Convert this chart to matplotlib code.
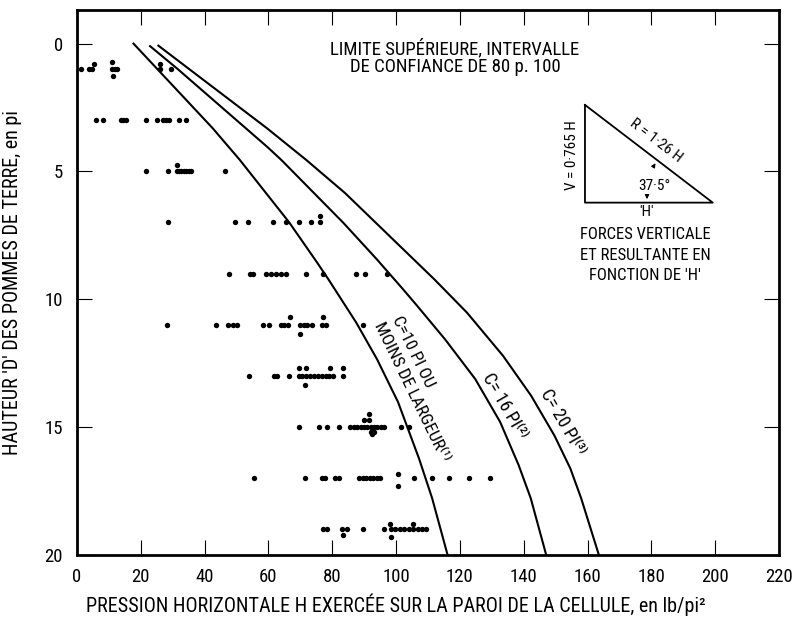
import matplotlib
matplotlib.use('Agg')
import matplotlib.pyplot as plt

plt.rcParams['font.family'] = ['Liberation Sans Narrow', 'Roboto Condensed',
                               'Liberation Sans', 'DejaVu Sans']
plt.rcParams['axes.unicode_minus'] = False

# curves: H (lb/pi2) against D (pi)
c10_h = [17.7, 25.2, 42.5, 51.0, 66.5, 75.3, 78.8, 87.5, 94.0, 100.6, 107.2, 111.3, 116.1]
c10_d = [0.0, 1.0, 3.31, 4.55, 7.0, 8.58, 9.23, 10.92, 12.35, 14.03, 16.25, 17.8, 20.0]
c16_h = [22.9, 31.5, 59.5, 64.0, 83.5, 94.0, 102.2, 106.5, 115.3, 124.8, 132.6, 138.4, 142.2, 147.0]
c16_d = [0.1, 0.99, 4.03, 4.55, 7.02, 8.45, 9.62, 10.25, 11.57, 13.13, 14.81, 16.5, 17.8, 20.0]
c20_h = [25.5, 59.5, 71.8, 84.0, 112.0, 122.2, 133.5, 142.3, 149.6, 154.6, 158.0, 163.5]
c20_d = [0.08, 3.31, 4.55, 5.85, 9.23, 10.53, 12.22, 13.78, 15.34, 16.63, 17.8, 20.0]

# measured points, one list per depth row
rows = {
    1: [1.3, 3.8, 4.6, 11.0, 11.9, 12.6, 26.0, 29.5],
    3: [6.1, 8.2, 13.8, 14.5, 15.4, 21.6, 25.1, 27.0, 27.9, 28.7, 32.0, 34.1],
    5: [21.5, 28.5, 31.2, 31.9, 32.7, 33.5, 34.3, 35.0, 35.8, 46.4],
    7: [28.4, 49.6, 53.7, 61.5, 65.6, 69.5, 73.4, 76.2],
    9: [47.6, 54.2, 55.3, 59.1, 60.7, 62.3, 63.8, 65.6, 71.7, 77.2, 87.4, 90.2, 97.3],
    11: [28.3, 43.6, 47.4, 48.9, 50.0, 58.4, 60.2, 63.8, 65.0, 66.2, 70.0, 71.0, 72.0,
         73.6, 76.9, 78.0, 89.5],
    13: [54.0, 61.7, 62.8, 66.5, 69.5, 70.6, 71.9, 73.1, 74.3, 75.5, 76.7, 77.9, 79.1,
         80.3, 83.5],
    15: [69.5, 75.8, 78.2, 82.0, 85.7, 86.8, 87.8, 88.9, 89.9, 90.9, 92.0, 93.0, 94.1,
         95.2, 96.2, 101.4, 104.0],
    17: [55.6, 71.3, 76.8, 77.6, 81.0, 82.0, 88.3, 89.5, 90.7, 91.8, 92.8, 93.9, 95.1,
         105.6, 111.4, 116.6, 122.9, 129.5],
    19: [77.0, 78.5, 83.0, 84.7, 89.6, 96.1, 98.4, 99.8, 101.2, 102.6, 104.0, 105.4,
         106.8, 108.2, 109.5],
}
# points lying a little above or below their row
extra_h = [5.2, 11.0, 11.2, 26.0, 31.4, 76.2, 66.7, 77.2, 70.0, 69.5, 71.9, 79.4, 83.5,
           71.4, 89.9, 91.5, 91.5, 92.0, 93.0, 92.5, 100.6, 100.6, 98.2, 105.4, 83.3, 98.5]
extra_d = [0.78, 0.72, 1.27, 0.8, 4.75, 6.75, 10.7, 10.7, 11.35, 12.7, 12.7, 12.7, 12.7,
           13.35, 14.75, 14.75, 14.5, 15.2, 15.2, 15.3, 16.85, 17.3, 18.8, 18.8, 19.25, 19.3]

xticks = list(range(0, 221, 20))
yticks = [0, 5, 10, 15, 20]

fig = plt.figure(figsize=(7.98, 6.19), dpi=100)
ax = fig.add_axes([0.0965, 0.1042, 0.8797, 0.879])

for d, hs in rows.items():
    ax.scatter(hs, [d] * len(hs), s=15, color='black', linewidths=0, zorder=3)
ax.scatter(extra_h, extra_d, s=15, color='black', linewidths=0, zorder=3)

for h, d in [(c10_h, c10_d), (c16_h, c16_d), (c20_h, c20_d)]:
    ax.plot(h, d, color='black', lw=1.5)

ax.set_xlim(0, 220)
ax.set_ylim(20, -1.3)
ax.set_xticks(xticks)
ax.set_yticks(yticks)
ax.tick_params(direction='in', length=11, width=0.8, top=True, right=True,
               labelsize=13.5, pad=10)
for s in ax.spines.values():
    s.set_linewidth(2.0)

ax.set_xlabel("PRESSION HORIZONTALE H EXERCÉE SUR LA PAROI DE LA CELLULE, en lb/pi²",
              fontsize=14.5)
ax.xaxis.set_label_coords(0.454, -0.071)
ax.set_ylabel("HAUTEUR 'D' DES POMMES DE TERRE, en pi", fontsize=14.5)
ax.yaxis.set_label_coords(-0.078, 0.5)

# curve labels
ax.text(105.3, 12.05, "C=10 PI OU", rotation=-64, rotation_mode='anchor',
        ha='center', va='center', fontsize=12.5)
ax.text(104.9, 13.62, "MOINS DE LARGEUR⁽¹⁾", rotation=-64, rotation_mode='anchor',
        ha='center', va='center', fontsize=12.5)
ax.text(133.9, 14.2, "C= 16 PI⁽²⁾", rotation=-60, rotation_mode='anchor',
        ha='center', va='center', fontsize=13)
ax.text(152.3, 14.8, "C= 20 PI⁽³⁾", rotation=-60, rotation_mode='anchor',
        ha='center', va='center', fontsize=13)

t = ax.transAxes
ax.text(0.5385, 0.9290, "LIMITE SUPÉRIEURE, INTERVALLE", transform=t,
        ha='center', va='center', fontsize=13.5)
ax.text(0.5385, 0.8955, "DE CONFIANCE DE 80 p. 100", transform=t,
        ha='center', va='center', fontsize=13.5)

# force triangle inset
ax.plot([0.7236, 0.7236, 0.9056, 0.7236], [0.8263, 0.6467, 0.6467, 0.8263],
        transform=t, color='black', lw=1.3)
ax.text(0.8244, 0.7600, "R = 1·26 H", transform=t, rotation=-37.5,
        rotation_mode='anchor', ha='center', va='center', fontsize=11)
ax.text(0.7051, 0.7331, "V = 0·765 H", transform=t, rotation=90,
        ha='center', va='center', fontsize=11)
ax.text(0.8219, 0.6774, "37·5°", transform=t, ha='center', va='center', fontsize=11)
ax.text(0.8120, 0.6287, "'H'", transform=t, ha='center', va='center', fontsize=11)
ax.annotate('', xy=(0.8262, 0.7234), xytext=(0.8191, 0.7090), xycoords=t,
            arrowprops=dict(arrowstyle='-|>', color='black', lw=0.8, mutation_scale=6))
ax.annotate('', xy=(0.8120, 0.6480), xytext=(0.8120, 0.6650), xycoords=t,
            arrowprops=dict(arrowstyle='-|>', color='black', lw=0.8, mutation_scale=6))
for y, s in [(0.5882, "FORCES VERTICALE"), (0.5496, "ET RESULTANTE EN"),
             (0.5129, "FONCTION DE 'H'")]:
    ax.text(0.8091, y, s, transform=t, ha='center', va='center', fontsize=12)

fig.savefig('out.png', dpi=100)
